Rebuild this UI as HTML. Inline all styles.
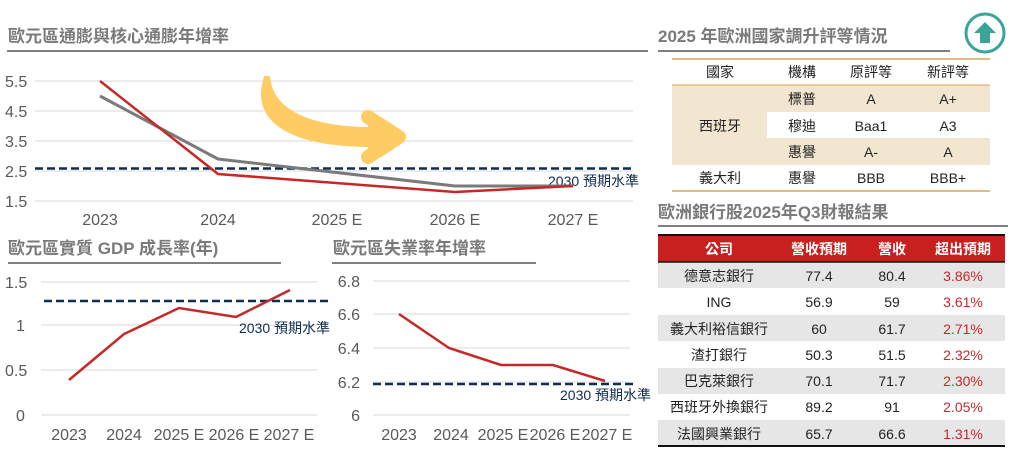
<!DOCTYPE html>
<html><head><meta charset="utf-8"><style>
body{margin:0;background:#fff;width:1012px;height:457px;overflow:hidden}
svg{display:block}
text{font-family:"Liberation Sans","Noto Sans CJK TC",sans-serif}
.t{font-size:17px;font-weight:bold;fill:#7a7a7a}
.ax{font-size:16px;fill:#595959;font-family:"Liberation Sans Narrow","Liberation Sans",sans-serif}
.lb{font-size:14px;fill:#0f2d52;font-family:"Liberation Sans Narrow","Liberation Sans","Noto Sans CJK TC",sans-serif}
.c{font-size:14px;fill:#222;text-anchor:middle}
.r{font-size:14px;fill:#c62828;text-anchor:middle}
.h{font-size:14px;fill:#fff;font-weight:bold;text-anchor:middle}
.g{stroke:#d9d9d9;stroke-width:1}
</style></head><body>
<svg width="1012" height="457" xmlns="http://www.w3.org/2000/svg">
<!-- Chart 1 -->
<text class="t" x="8" y="42">歐元區通膨與核心通膨年增率</text>
<line x1="7" y1="51" x2="648" y2="51" stroke="#7f7f7f" stroke-width="2"/>
<g class="g"><line x1="35" y1="81" x2="633" y2="81"/><line x1="35" y1="111" x2="633" y2="111"/><line x1="35" y1="141" x2="633" y2="141"/><line x1="35" y1="171" x2="633" y2="171"/><line x1="35" y1="201" x2="633" y2="201"/></g>
<g class="ax"><text x="5" y="87">5.5</text><text x="5" y="117">4.5</text><text x="5" y="147">3.5</text><text x="5" y="177">2.5</text><text x="5" y="207">1.5</text></g>
<g class="ax" text-anchor="middle"><text x="100" y="225">2023</text><text x="218" y="225">2024</text><text x="337" y="225">2025 E</text><text x="455" y="225">2026 E</text><text x="573" y="225">2027 E</text></g>
<path d="M265,77 C250,122 292,146 372,146 L372,128 C312,128 272,112 269,77 Z" fill="#ffcb63" stroke="#ffcb63" stroke-width="2" stroke-linejoin="round"/>
<polyline points="368,117 399,137 368,157" fill="#ffcb63" stroke="#ffcb63" stroke-width="14" stroke-linejoin="round" stroke-linecap="round"/>
<line x1="35" y1="168.5" x2="633" y2="168.5" stroke="#0f2d52" stroke-width="2.5" stroke-dasharray="8,4"/>
<text class="lb" x="548" y="186">2030 預期水準</text>
<polyline points="100,96 218,159 455,186 573,186" fill="none" stroke="#7a7a7a" stroke-width="3"/>
<polyline points="100,81 218,174 455,192 573,186" fill="none" stroke="#c62828" stroke-width="2.5"/>
<!-- Chart 2 -->
<text class="t" x="8" y="254">歐元區實質 GDP 成長率(年)</text>
<line x1="8" y1="263" x2="281" y2="263" stroke="#7f7f7f" stroke-width="2"/>
<g class="g"><line x1="41" y1="282" x2="317" y2="282"/><line x1="41" y1="325" x2="317" y2="325"/><line x1="41" y1="370" x2="317" y2="370"/><line x1="41" y1="415" x2="317" y2="415"/></g>
<g class="ax"><text x="5" y="288">1.5</text><text x="16" y="331">1</text><text x="5" y="376">0.5</text><text x="16" y="421">0</text></g>
<g class="ax" text-anchor="middle"><text x="69" y="440">2023</text><text x="124" y="440">2024</text><text x="179" y="440">2025 E</text><text x="234" y="440">2026 E</text><text x="289" y="440">2027 E</text></g>
<line x1="44" y1="301" x2="329" y2="301" stroke="#0f2d52" stroke-width="2.5" stroke-dasharray="8,4"/>
<text class="lb" x="239" y="333">2030 預期水準</text>
<polyline points="69,380 124,334 179,308 236,317 290,290" fill="none" stroke="#c62828" stroke-width="2.5"/>
<!-- Chart 3 -->
<text class="t" x="333" y="254">歐元區失業率年增率</text>
<line x1="332" y1="263" x2="536" y2="263" stroke="#7f7f7f" stroke-width="2"/>
<g class="g"><line x1="373" y1="281" x2="630" y2="281"/><line x1="373" y1="314" x2="630" y2="314"/><line x1="373" y1="348" x2="630" y2="348"/><line x1="373" y1="382" x2="630" y2="382"/><line x1="373" y1="415" x2="630" y2="415"/></g>
<g class="ax" text-anchor="end"><text x="360" y="287">6.8</text><text x="360" y="320">6.6</text><text x="360" y="354">6.4</text><text x="360" y="388">6.2</text><text x="360" y="421">6</text></g>
<g class="ax" text-anchor="middle"><text x="399" y="440">2023</text><text x="451" y="440">2024</text><text x="503" y="440">2025 E</text><text x="555" y="440">2026 E</text><text x="607" y="440">2027 E</text></g>
<line x1="373" y1="384" x2="634" y2="384" stroke="#0f2d52" stroke-width="2.5" stroke-dasharray="8,4"/>
<text class="lb" x="560" y="400">2030 預期水準</text>
<polyline points="399,314 449,348 501,365 553,365 605,381" fill="none" stroke="#c62828" stroke-width="2.5"/>
<!-- Right table 1 -->
<text class="t" x="658" y="42">2025 年歐洲國家調升評等情況</text>
<line x1="658" y1="51" x2="950" y2="51" stroke="#7f7f7f" stroke-width="2"/>
<circle cx="985" cy="33" r="19" fill="#fff" stroke="#3aa596" stroke-width="3"/>
<path d="M985,22 L996,33 L990,33 L990,43 L980,43 L980,33 L974,33 Z" fill="#3aa596"/>
<rect x="672" y="85" width="318" height="27" fill="#f3e6d0"/>
<rect x="672" y="112" width="95" height="26" fill="#f3e6d0"/>
<rect x="672" y="138" width="318" height="27" fill="#f3e6d0"/>
<line x1="672" y1="59" x2="990" y2="59" stroke="#d9a650" stroke-width="1.5"/>
<line x1="672" y1="85" x2="990" y2="85" stroke="#d9a650" stroke-width="1"/>
<line x1="672" y1="191" x2="990" y2="191" stroke="#d9a650" stroke-width="1.5"/>
<g class="c"><text x="720" y="77">國家</text><text x="802" y="77">機構</text><text x="871" y="77">原評等</text><text x="948" y="77">新評等</text>
<text x="802" y="104">標普</text><text x="871" y="104">A</text><text x="948" y="104">A+</text>
<text x="720" y="131">西班牙</text><text x="802" y="131">穆迪</text><text x="871" y="131">Baa1</text><text x="948" y="131">A3</text>
<text x="802" y="157">惠譽</text><text x="871" y="157">A-</text><text x="948" y="157">A</text>
<text x="720" y="183">義大利</text><text x="802" y="183">惠譽</text><text x="871" y="183">BBB</text><text x="948" y="183">BBB+</text></g>
<!-- Right table 2 -->
<text class="t" x="658" y="218">歐洲銀行股2025年Q3財報結果</text>
<line x1="658" y1="226" x2="1008" y2="226" stroke="#7f7f7f" stroke-width="2"/>
<rect x="658" y="235" width="347" height="27" fill="#c8201f"/>
<line x1="658" y1="235" x2="1005" y2="235" stroke="#111" stroke-width="2"/>
<line x1="658" y1="262" x2="1005" y2="262" stroke="#111" stroke-width="1.5"/>
<rect x="658" y="263" width="347" height="25" fill="#e6e6e6"/>
<rect x="658" y="315" width="347" height="26" fill="#e6e6e6"/>
<rect x="658" y="368" width="347" height="26" fill="#e6e6e6"/>
<rect x="658" y="420" width="347" height="26" fill="#e6e6e6"/>
<line x1="658" y1="446" x2="1005" y2="446" stroke="#111" stroke-width="2"/>
<g class="h"><text x="719" y="254">公司</text><text x="819" y="254">營收預期</text><text x="892" y="254">營收</text><text x="963" y="254">超出預期</text></g>
<g class="c" style="font-size:14px">
<text x="719" y="281">德意志銀行</text><text x="819" y="281">77.4</text><text x="892" y="281">80.4</text>
<text x="719" y="307">ING</text><text x="819" y="307">56.9</text><text x="892" y="307">59</text>
<text x="719" y="334">義大利裕信銀行</text><text x="819" y="334">60</text><text x="892" y="334">61.7</text>
<text x="719" y="360">渣打銀行</text><text x="819" y="360">50.3</text><text x="892" y="360">51.5</text>
<text x="719" y="386">巴克萊銀行</text><text x="819" y="386">70.1</text><text x="892" y="386">71.7</text>
<text x="719" y="412">西班牙外換銀行</text><text x="819" y="412">89.2</text><text x="892" y="412">91</text>
<text x="719" y="439">法國興業銀行</text><text x="819" y="439">65.7</text><text x="892" y="439">66.6</text></g>
<g class="r"><text x="963" y="281">3.86%</text><text x="963" y="307">3.61%</text><text x="963" y="334">2.71%</text><text x="963" y="360">2.32%</text><text x="963" y="386">2.30%</text><text x="963" y="412">2.05%</text><text x="963" y="439">1.31%</text></g>
</svg>
</body></html>
